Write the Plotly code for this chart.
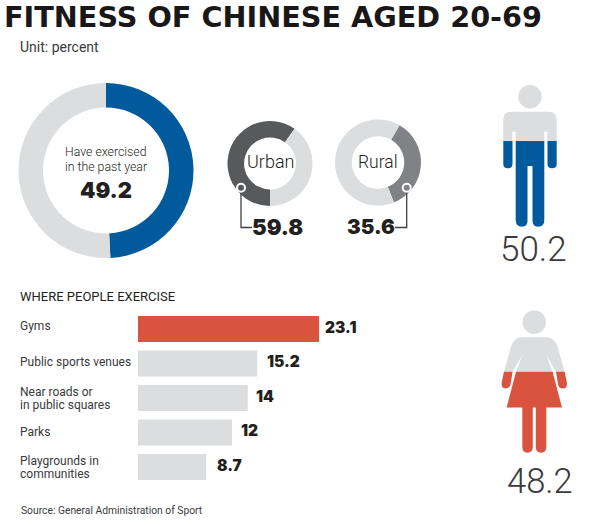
import plotly.graph_objects as go

W, H = 600, 525

# ---- data ----
title = "FITNESS OF CHINESE AGED 20-69"
unit = "Unit: percent"
source = "Source: General Administration of Sport"
section = "WHERE PEOPLE EXERCISE"
exercised = 49.2
urban = 59.8
rural = 35.6
male = 50.2
female = 48.2
places = ["Gyms", "Public sports venues", "Near roads or|in public squares", "Parks", "Playgrounds in|communities"]
place_values = [23.1, 15.2, 14, 12, 8.7]

# ---- style ----
BLUE, RED, LIGHT = "#005a9c", "#d9533f", "#dcddde"
DARK, MID, INK = "#58595b", "#808285", "#231f20"
BODY = "Roboto"
HEAVY = "Inter"


def px(x):
    return x / W


def py(y):
    return 1 - y / H


def path(*tokens):
    out = []
    for t in tokens:
        out.append(t if isinstance(t, str) else f"{px(t[0]):.5f},{py(t[1]):.5f}")
    return " ".join(out)


def donut(value, color, cx, cy, r, hole, rotation, name):
    return go.Pie(
        values=[value, 100 - value], sort=False, direction="clockwise", rotation=rotation,
        hole=hole, textinfo="none", hoverinfo="skip", showlegend=False, name=name,
        marker=dict(colors=[color, LIGHT], line=dict(width=0)),
        domain=dict(x=[px(cx - r), px(cx + r)], y=[py(cy + r), py(cy - r)]),
    )


fig = go.Figure()
fig.add_trace(donut(exercised, BLUE, 106, 170.5, 87.5, 0.72, 0, "Exercised"))
fig.add_trace(donut(urban, DARK, 270, 163.5, 42.5, 0.61, 180, "Urban"))
fig.add_trace(donut(rural, MID, 378, 162.5, 43, 0.61, 30, "Rural"))

fig.add_trace(go.Bar(
    x=place_values, y=places, orientation="h", hoverinfo="skip", showlegend=False,
    marker=dict(color=[RED] + [LIGHT] * 4, line=dict(width=0)),
))

ann = []


def text(x, y, s, size, family=BODY, weight=400, color=INK, anchor="left"):
    ann.append(dict(
        x=px(x), y=py(y), xref="paper", yref="paper", text=s, showarrow=False,
        xanchor=anchor, yanchor="middle", xshift=0, yshift=0, borderpad=0,
        font=dict(size=size, family=family, weight=weight, color=color),
    ))


text(3, 16.7, title, 28.7, "DejaVu Sans", 700, "#1a1718")
text(18.5, 47, unit, 14, BODY, 400, "#3a3a3c")
text(106, 152, "Have exercised", 12.3, BODY, 300, anchor="center")
text(106, 167, "in the past year", 12.3, BODY, 300, anchor="center")
text(106, 190, f"{exercised}", 22, HEAVY, 900, anchor="center")
text(270, 162, "Urban", 18, BODY, 300, anchor="center")
text(378, 162, "Rural", 17.5, BODY, 300, anchor="center")
text(251, 227, f"{urban}", 22, HEAVY, 900, anchor="left")
text(395.5, 227, f"{rural}", 20.5, HEAVY, 900, anchor="right")
text(533.5, 249, f"{male}", 35, BODY, 300, "#3a3a3c", "center")
text(539.5, 481, f"{female}", 34.5, BODY, 300, "#3a3a3c", "center")
text(18.5, 296, section, 13, BODY, 400)
text(19.5, 510, source, 10.3, BODY, 400, "#3a3a3c")

gaps = [5, 9, 7, 8, 10]
label_shift = [3.5, 1.5, -0.5, 0.5, -0.5]
for name, v, g, ls in zip(places, place_values, gaps, label_shift):
    ann.append(dict(x=v, y=name, xref="x", yref="y", text=f"{v}", showarrow=False, xanchor="left",
                    yanchor="middle", xshift=g, yshift=2, borderpad=0,
                    font=dict(size=15.5, family=HEAVY, weight=900, color=INK)))
    lines = name.split("|")
    for i, line in enumerate(lines):
        ann.append(dict(x=px(18.5), xref="paper", y=name, yref="y", text=line, showarrow=False, borderpad=0,
                        xanchor="left", yanchor="middle", yshift=(ls - 13 * (i - (len(lines) - 1) / 2)),
                        font=dict(size=12, family=BODY, weight=400, color="#3a3a3c")))

shapes = []


def add_path(color, *tokens):
    shapes.append(dict(type="path", xref="paper", yref="paper", path=path(*tokens),
                       fillcolor=color, line=dict(width=0), layer="above"))


def add_circle(cx, cy, r, fill, line_color=None, lw=0):
    shapes.append(dict(type="circle", xref="paper", yref="paper",
                       x0=px(cx - r), x1=px(cx + r), y0=py(cy + r), y1=py(cy - r),
                       fillcolor=fill, line=dict(width=lw, color=line_color or fill), layer="above"))


def add_line(color, *pts):
    toks = ["M", pts[0]]
    for p in pts[1:]:
        toks += ["L", p]
    shapes.append(dict(type="path", xref="paper", yref="paper", path=path(*toks),
                       line=dict(width=1.3, color=color), layer="above"))


# callouts
add_line("#414042", (241, 192), (241, 227.5), (252, 227.5))
add_line("#414042", (406.7, 192), (406.7, 227.5), (395, 227.5))
add_circle(241, 187.7, 4, DARK, "#ffffff", 2)
add_circle(406.7, 187.7, 4, MID, "#ffffff", 2)

# man
c = 530
add_circle(c, 96.7, 11.7, LIGHT)
s = 141
add_path(LIGHT, "M", (c - 26.7, s), "L", (c - 26.7, 119.7), "Q", (c - 26.7, 111.7), (c - 18.7, 111.7),
         "L", (c + 18.7, 111.7), "Q", (c + 26.7, 111.7), (c + 26.7, 119.7), "L", (c + 26.7, s),
         "L", (c + 17.3, s), "L", (c + 17.3, 131.7), "L", (c + 14.3, 131.7), "L", (c + 14.3, s),
         "L", (c - 14.3, s), "L", (c - 14.3, 131.7), "L", (c - 17.7, 131.7), "L", (c - 17.7, s), "Z")
for sgn in (-1, 1):
    a, b = c + sgn * 26.7, c + sgn * 17.5
    add_path(BLUE, "M", (a, s), "L", (b, s), "L", (b, 164), "Q", (b, 168.3), ((a + b) / 2, 168.3),
             "Q", (a, 168.3), (a, 164), "Z")
add_path(BLUE, "M", (c - 14.3, s), "L", (c + 14.3, s), "L", (c + 14.3, 220), "Q", (c + 14.3, 226.7), (c + 8, 226.7),
         "Q", (c + 2.5, 226.7), (c + 2.5, 221), "L", (c + 2.5, 166), "L", (c - 2.5, 166), "L", (c - 2.5, 221),
         "Q", (c - 2.5, 226.7), (c - 8, 226.7), "Q", (c - 14.3, 226.7), (c - 14.3, 220), "Z")

# woman
c = 534.3
add_circle(c, 322.3, 11.7, LIGHT)
s = 371.7
add_path(LIGHT, "M", (c - 30.3, s), "L", (c - 23.5, 347), "Q", (c - 20, 337.3), (c - 12, 337.3),
         "L", (c + 12, 337.3), "Q", (c + 20, 337.3), (c + 23.5, 347), "L", (c + 30.3, s),
         "L", (c + 21.7, s), "L", (c + 12, 355), "L", (c + 18.3, s), "L", (c - 18.3, s),
         "L", (c - 12, 355), "L", (c - 21.7, s), "Z")
for sgn in (-1, 1):
    add_path(RED, "M", (c + sgn * 30.3, s), "L", (c + sgn * 32.7, 383), "Q", (c + sgn * 33, 388.5), (c + sgn * 28.5, 388.5),
             "Q", (c + sgn * 24, 388.5), (c + sgn * 23.5, 383), "L", (c + sgn * 21.7, s), "Z")
    add_path(RED, "M", (c + sgn * 12, 405), "L", (c + sgn * 1.5, 405), "L", (c + sgn * 1.5, 447), "Q", (c + sgn * 1.5, 452.7), (c + sgn * 6.7, 452.7),
             "Q", (c + sgn * 12, 452.7), (c + sgn * 12, 447), "Z")
add_path(RED, "M", (c - 18.3, s), "L", (c + 18.3, s), "L", (c + 27.7, 407.5), "L", (c - 27.7, 407.5), "Z")

top, bottom = 311.75, 484.25
fig.update_layout(
    width=W, height=H, autosize=False, margin=dict(l=0, r=0, t=0, b=0),
    paper_bgcolor="#ffffff", plot_bgcolor="#ffffff", showlegend=False,
    bargap=0.246, annotations=ann, shapes=shapes,
    xaxis=dict(domain=[px(138), px(138 + 7.84 * 30)], range=[0, 30], visible=False, fixedrange=True),
    yaxis=dict(domain=[py(bottom), py(top)], autorange=False, range=[4.5, -0.5], type="category",
               categoryorder="array", categoryarray=places, visible=False, fixedrange=True),
)
fig.write_html("out.html", config=dict(displayModeBar=False), default_width=W, default_height=H,
               post_script="document.documentElement.style.overflow='hidden';document.body.style.margin='0';window.dispatchEvent(new Event('resize'));")
